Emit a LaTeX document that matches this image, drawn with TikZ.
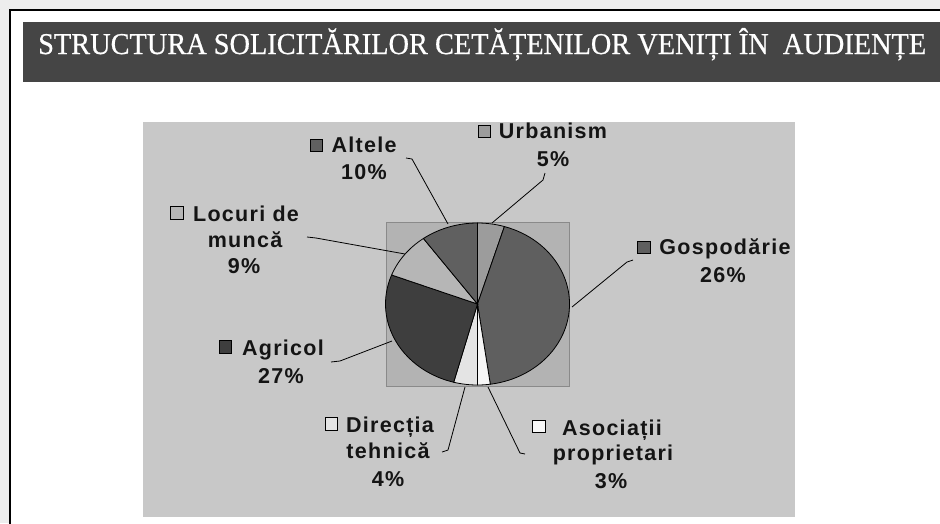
\documentclass[tikz,border=0pt]{standalone}
\usepackage{fontspec}
\usepackage{graphicx}
\setmainfont{Liberation Serif}
\newfontfamily\titlefont[FakeBold=0.6]{Liberation Serif}
\newfontfamily\lblfont[LetterSpace=6]{Liberation Sans}
\definecolor{shadowgray}{HTML}{EDEDED}
\definecolor{titlebar}{HTML}{454545}
\definecolor{chartbg}{HTML}{C8C8C8}
\definecolor{plotbg}{HTML}{B3B3B3}
\definecolor{plotedge}{HTML}{8A8A8A}
\definecolor{cUrb}{HTML}{9C9C9C}
\definecolor{cGos}{HTML}{5F5F5F}
\definecolor{cAso}{HTML}{F7F7F7}
\definecolor{cDir}{HTML}{E4E4E4}
\definecolor{cAgr}{HTML}{3E3E3E}
\definecolor{cLoc}{HTML}{B6B6B6}
\definecolor{cAlt}{HTML}{606060}
\definecolor{txt}{HTML}{141414}
\begin{document}
\begin{tikzpicture}[x=1pt,y=-1pt,
  lbl/.style={font=\lblfont\bfseries\fontsize{21.5}{21.5}\selectfont, text=txt, inner sep=0pt, anchor=base},
  lsq/.style={draw=black, line width=0.9pt, minimum size=12.5pt, inner sep=0pt},
  slice/.style={draw=black, line width=0.8pt},
  leader/.style={draw=black, line width=0.8pt},
  titletext/.style={font=\titlefont\fontsize{27}{27}\selectfont, text=white, inner sep=0pt, anchor=base west}]
\useasboundingbox (0,0) rectangle (940,523);
% background, frame and title bar
\fill[shadowgray] (0,0) rectangle (940,523);
\fill[white] (10,10) rectangle (945,530);
\draw[line width=2.2pt] (10,530) -- (10,10) -- (945,10);
\fill[titlebar] (23,22) rectangle (945,82);
\node[titletext] (title) at (38,54) {\resizebox{888pt}{1.12\height}{STRUCTURA SOLICITĂRILOR CETĂȚENILOR VENIȚI ÎN\ \ AUDIENȚE}};
% chart area and plot area
\fill[chartbg] (143,122) rectangle (795,517);
\filldraw[fill=plotbg, draw=plotedge, line width=1pt] (386,222) rectangle (569,386);
% pie
\coordinate (C) at (477.5,304);
\filldraw[slice, fill=cUrb] (C) -- ++(-90:92 and 81) arc[start angle=-90, end angle=-73, x radius=92, y radius=81] -- cycle;
\filldraw[slice, fill=cGos] (C) -- ++(-73:92 and 81) arc[start angle=-73, end angle=82, x radius=92, y radius=81] -- cycle;
\filldraw[slice, fill=cAso] (C) -- ++(82:92 and 81) arc[start angle=82, end angle=90, x radius=92, y radius=81] -- cycle;
\filldraw[slice, fill=cDir] (C) -- ++(90:92 and 81) arc[start angle=90, end angle=105, x radius=92, y radius=81] -- cycle;
\filldraw[slice, fill=cAgr] (C) -- ++(105:92 and 81) arc[start angle=105, end angle=201, x radius=92, y radius=81] -- cycle;
\filldraw[slice, fill=cLoc] (C) -- ++(201:92 and 81) arc[start angle=201, end angle=234, x radius=92, y radius=81] -- cycle;
\filldraw[slice, fill=cAlt] (C) -- ++(234:92 and 81) arc[start angle=234, end angle=270, x radius=92, y radius=81] -- cycle;
% labels: Altele
\node[lsq, fill=cAlt] (sqAlt) at (316.5,145.5) {};
\node[lbl] (tAlt1) at (364,152) {Altele};
\node[lbl] (tAlt2) at (364,179) {10\%};
% Locuri de munca
\node[lsq, fill=cLoc] (sqLoc) at (177,213) {};
\node[lbl] (tLoc1) at (246,221) {Locuri de};
\node[lbl] (tLoc2) at (245,247) {muncă};
\node[lbl] (tLoc3) at (244,273) {9\%};
% Urbanism
\node[lsq, fill=cUrb] (sqUrb) at (484.5,131.5) {};
\node[lbl] (tUrb1) at (553,138) {Urbanism};
\node[lbl] (tUrb2) at (553,166) {5\%};
% Gospodarie
\node[lsq, fill=cGos] (sqGos) at (644,247.5) {};
\node[lbl] (tGos1) at (725,254) {Gospodărie};
\node[lbl] (tGos2) at (723,282) {26\%};
% Agricol
\node[lsq, fill=cAgr] (sqAgr) at (225.5,347) {};
\node[lbl] (tAgr1) at (283,355) {Agricol};
\node[lbl] (tAgr2) at (281,383) {27\%};
% Directia tehnica
\node[lsq, fill=cDir] (sqDir) at (331.5,424) {};
\node[lbl] (tDir1) at (390,432) {Direcția};
\node[lbl] (tDir2) at (388,458) {tehnică};
\node[lbl] (tDir3) at (388,486) {4\%};
% Asociatii proprietari
\node[lsq, fill=cAso] (sqAso) at (539,426.5) {};
\node[lbl] (tAso1) at (612,435) {Asociații};
\node[lbl] (tAso2) at (613,460) {proprietari};
\node[lbl] (tAso3) at (611,488) {3\%};
% leader lines
\coordinate (lAlt1) at (406,158); \coordinate (lAlt2) at (412,159); \coordinate (lAlt3) at (448,224);
\coordinate (lLoc1) at (307,237); \coordinate (lLoc2) at (316,238); \coordinate (lLoc3) at (405,254);
\coordinate (lUrb1) at (545,173); \coordinate (lUrb2) at (543,180); \coordinate (lUrb3) at (492,223);
\coordinate (lGos1) at (633,260); \coordinate (lGos2) at (627,262); \coordinate (lGos3) at (572,307);
\coordinate (lAgr1) at (331,362); \coordinate (lAgr2) at (340,361); \coordinate (lAgr3) at (392,341);
\coordinate (lDir1) at (442,452); \coordinate (lDir2) at (448,450); \coordinate (lDir3) at (465,387);
\coordinate (lAso1) at (525,454); \coordinate (lAso2) at (520,453); \coordinate (lAso3) at (488,387);
\draw[leader] (lAlt1) -- (lAlt2) -- (lAlt3);
\draw[leader] (lLoc1) -- (lLoc2) -- (lLoc3);
\draw[leader] (lUrb1) -- (lUrb2) -- (lUrb3);
\draw[leader] (lGos1) -- (lGos2) -- (lGos3);
\draw[leader] (lAgr1) -- (lAgr2) -- (lAgr3);
\draw[leader] (lDir1) -- (lDir2) -- (lDir3);
\draw[leader] (lAso1) -- (lAso2) -- (lAso3);
\end{tikzpicture}
\end{document}
